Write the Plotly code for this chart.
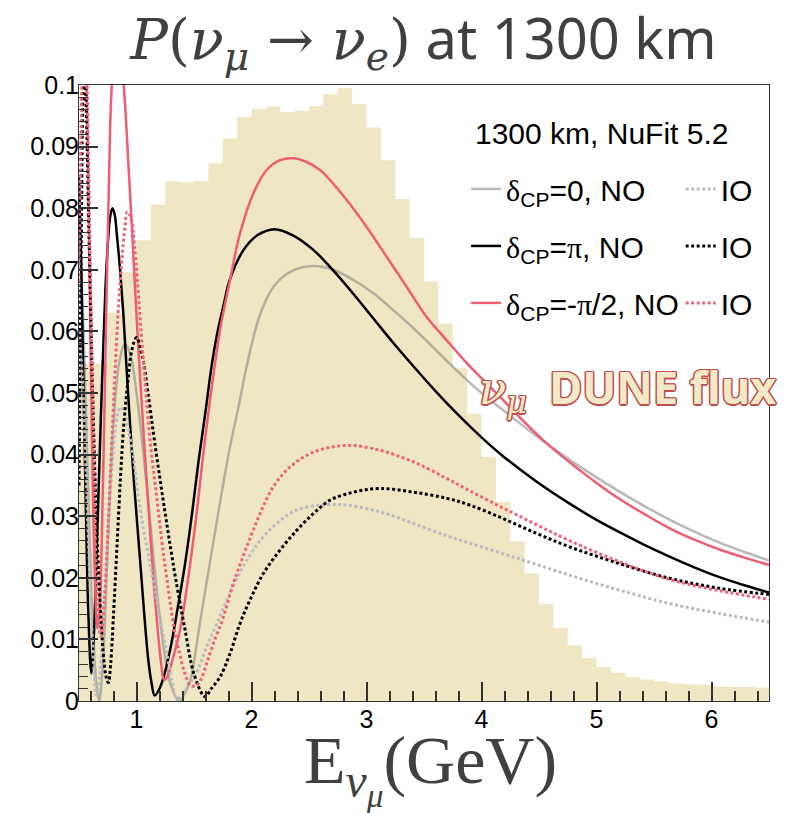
import plotly.graph_objects as go

# ---------------- data ----------------
# nu_mu flux shape (arbitrary units on the probability axis), 0.125 GeV bins from 0.5 GeV
flux_start = 0.5
flux_bin = 0.125
flux = [0.0548, 0.0548, 0.0630, 0.0696, 0.0748, 0.0806, 0.0844, 0.0842,
        0.0844, 0.0873, 0.0913, 0.0948, 0.0961, 0.0965, 0.0956, 0.0958,
        0.0966, 0.0985, 0.0995, 0.0969, 0.0931, 0.0878, 0.0815, 0.0752,
        0.0681, 0.0613, 0.0540, 0.0466, 0.0396, 0.0323, 0.0259, 0.0207,
        0.0157, 0.0119, 0.0090, 0.0070, 0.0055, 0.0046, 0.0039, 0.0035,
        0.0032, 0.0029, 0.0027, 0.0026, 0.0024, 0.0023, 0.0023, 0.0022]

# P(nu_mu -> nu_e) at 1300 km, delta_CP = 0, normal ordering
e_d0_no = [0.50, 0.53, 0.56, 0.59, 0.62, 0.65, 0.675, 0.70, 0.73, 0.76, 0.80, 0.85,
           0.90, 0.95, 1.00, 1.05, 1.10, 1.15, 1.20, 1.25, 1.30, 1.37, 1.42, 1.47,
           1.55, 1.67, 1.81, 1.89, 1.96, 2.07, 2.19, 2.34, 2.54, 2.71, 2.89, 3.06,
           3.23, 3.41, 3.58, 3.76, 4.00, 4.25, 4.50, 4.77, 5.00, 5.20, 5.42, 5.64,
           5.85, 6.07, 6.30, 6.50]
p_d0_no = [0.075, 0.065, 0.047, 0.028, 0.012, 0.003, 0.000, 0.004, 0.015, 0.030, 0.045, 0.055,
           0.058, 0.056, 0.050, 0.042, 0.033, 0.023, 0.014, 0.007, 0.0025, 0.000, 0.0012, 0.0035,
           0.0125, 0.026, 0.041, 0.048, 0.0545, 0.0625, 0.0672, 0.0697, 0.0706, 0.0700, 0.0683, 0.0662,
           0.0635, 0.0605, 0.0574, 0.0541, 0.0500, 0.0463, 0.0427, 0.0391, 0.0363, 0.0340, 0.0316, 0.0294,
           0.0275, 0.0257, 0.0241, 0.0228]

# delta_CP = 0, inverted ordering
e_d0_io = [0.50, 0.53, 0.56, 0.59, 0.62, 0.65, 0.68, 0.72, 0.76, 0.80, 0.83, 0.86,
           0.89, 0.93, 0.97, 1.01, 1.06, 1.11, 1.16, 1.22, 1.27, 1.31, 1.35, 1.40,
           1.45, 1.52, 1.61, 1.70, 1.81, 1.96, 2.10, 2.25, 2.39, 2.60, 2.75, 2.83,
           3.12, 3.41, 3.70, 3.90, 4.34, 4.77, 5.20, 5.64, 6.07, 6.50]
p_d0_io = [0.060, 0.052, 0.038, 0.022, 0.009, 0.001, 0.004, 0.016, 0.030, 0.041, 0.046, 0.0477,
           0.047, 0.044, 0.040, 0.034, 0.028, 0.023, 0.018, 0.012, 0.0071, 0.003, 0.0005, 0.001,
           0.0025, 0.0045, 0.0088, 0.0126, 0.0174, 0.0229, 0.0266, 0.0293, 0.0310, 0.0318, 0.0319, 0.0318,
           0.0307, 0.0288, 0.0268, 0.0256, 0.0230, 0.0204, 0.0180, 0.0158, 0.0142, 0.0128]

# delta_CP = pi, normal ordering
e_dpi_no = [0.50, 0.52, 0.54, 0.56, 0.58, 0.607, 0.63, 0.65, 0.67, 0.69, 0.71, 0.73,
            0.75, 0.77, 0.79, 0.81, 0.83, 0.855, 0.885, 0.925, 0.98, 1.04, 1.10, 1.13,
            1.158, 1.20, 1.245, 1.30, 1.36, 1.42, 1.48, 1.54, 1.60, 1.65, 1.70, 1.76,
            1.81, 1.93, 2.05, 2.20, 2.36, 2.54, 2.71, 2.89, 3.06, 3.23, 3.41, 3.61,
            3.80, 4.00, 4.19, 4.48, 4.77, 5.00, 5.20, 5.42, 5.64, 5.85, 6.07, 6.30, 6.50]
p_dpi_no = [0.085, 0.070, 0.050, 0.031, 0.015, 0.0045, 0.011, 0.022, 0.034, 0.046, 0.057, 0.067,
            0.074, 0.0785, 0.080, 0.079, 0.0755, 0.0705, 0.063, 0.0505, 0.035, 0.0207, 0.0071, 0.003,
            0.0009, 0.002, 0.0045, 0.009, 0.0153, 0.022, 0.030, 0.039, 0.047, 0.054, 0.0595, 0.0645,
            0.0683, 0.0732, 0.0756, 0.0766, 0.0756, 0.0732, 0.0699, 0.0660, 0.0621, 0.0582, 0.0543, 0.0501,
            0.0464, 0.0428, 0.0397, 0.0356, 0.0320, 0.0294, 0.0274, 0.0253, 0.0234, 0.0217, 0.0201, 0.0187,
            0.0176]

# delta_CP = pi, inverted ordering
e_dpi_io = [0.50, 0.52, 0.535, 0.55, 0.565, 0.58, 0.60, 0.62, 0.65, 0.68, 0.71, 0.735,
            0.755, 0.775, 0.80, 0.83, 0.86, 0.89, 0.926, 0.96, 1.00, 1.05, 1.10, 1.158,
            1.245, 1.33, 1.418, 1.506, 1.596, 1.65, 1.726, 1.813, 1.90, 1.987, 2.103, 2.248,
            2.393, 2.537, 2.683, 2.885, 3.117, 3.41, 3.70, 3.90, 4.19, 4.48, 4.77, 5.20,
            5.64, 6.07, 6.50]
p_dpi_io = [0.035, 0.075, 0.098, 0.103, 0.095, 0.082, 0.065, 0.049, 0.030, 0.017, 0.008, 0.004,
            0.003, 0.006, 0.014, 0.025, 0.036, 0.045, 0.052, 0.057, 0.059, 0.056, 0.050, 0.042,
            0.031, 0.021, 0.012, 0.004, 0.0007, 0.002, 0.0039, 0.0077, 0.0126, 0.0164, 0.0207, 0.0245,
            0.0277, 0.0304, 0.0326, 0.0339, 0.0345, 0.0339, 0.0329, 0.0318, 0.0296, 0.0272, 0.0250, 0.0223,
            0.0199, 0.0183, 0.0173]

# delta_CP = -pi/2, normal ordering
e_dm_no = [0.50, 0.53, 0.56, 0.58, 0.60, 0.62, 0.64, 0.66, 0.68, 0.70, 0.72, 0.74,
           0.76, 0.78, 0.81, 0.84, 0.87, 0.90, 0.93, 0.96, 0.99, 1.02, 1.05, 1.08,
           1.114, 1.15, 1.187, 1.215, 1.24, 1.27, 1.31, 1.378, 1.45, 1.52, 1.58, 1.639,
           1.726, 1.813, 1.90, 2.016, 2.132, 2.248, 2.364, 2.48, 2.596, 2.71, 2.83, 3.00,
           3.176, 3.35, 3.52, 3.70, 3.87, 4.00, 4.16, 4.335, 4.55, 4.77, 5.00, 5.20,
           5.42, 5.64, 5.85, 6.07, 6.30, 6.50]
p_dm_no = [0.140, 0.125, 0.105, 0.085, 0.058, 0.035, 0.019, 0.0118, 0.015, 0.028, 0.046, 0.066,
           0.084, 0.098, 0.106, 0.108, 0.104, 0.097, 0.087, 0.077, 0.066, 0.056, 0.047, 0.038,
           0.0288, 0.019, 0.011, 0.006, 0.0034, 0.004, 0.0065, 0.0115, 0.020, 0.030, 0.040, 0.0488,
           0.0602, 0.0683, 0.0759, 0.0824, 0.0862, 0.0878, 0.0881, 0.0875, 0.0862, 0.0840, 0.0813, 0.0770,
           0.0721, 0.0672, 0.0624, 0.0585, 0.0549, 0.0524, 0.0494, 0.0460, 0.0421, 0.0387, 0.0354, 0.0328,
           0.0303, 0.0280, 0.0262, 0.0246, 0.0232, 0.0221]

# delta_CP = -pi/2, inverted ordering
e_dm_io = [0.50, 0.52, 0.54, 0.56, 0.58, 0.60, 0.62, 0.64, 0.66, 0.69, 0.72, 0.75,
           0.78, 0.81, 0.84, 0.87, 0.90, 0.92, 0.95, 0.984, 1.028, 1.08, 1.12, 1.17,
           1.22, 1.27, 1.33, 1.378, 1.42, 1.47, 1.52, 1.56, 1.61, 1.668, 1.755, 1.842,
           1.958, 2.074, 2.19, 2.335, 2.537, 2.83, 3.117, 3.41, 3.70, 3.90, 4.19, 4.48,
           4.77, 5.20, 5.64, 6.07, 6.50]
p_dm_io = [0.068, 0.095, 0.108, 0.105, 0.090, 0.068, 0.046, 0.028, 0.016, 0.0105, 0.016, 0.027,
           0.040, 0.052, 0.063, 0.071, 0.077, 0.0794, 0.0785, 0.0737, 0.063, 0.0505, 0.042, 0.034,
           0.026, 0.019, 0.0115, 0.0075, 0.0045, 0.0025, 0.0025, 0.0035, 0.0061, 0.0093, 0.0136, 0.0191,
           0.0250, 0.0304, 0.0348, 0.0380, 0.0404, 0.0415, 0.0407, 0.0388, 0.0361, 0.0341, 0.0313, 0.0286,
           0.0260, 0.0226, 0.0197, 0.0179, 0.0165]

# ---------------- styling ----------------
SERIF = "Liberation Serif, DejaVu Serif, serif"
MATH = "DejaVu Serif, Liberation Serif, serif"
SANS = "Liberation Sans, Arial, sans-serif"
TITLE_SANS = "Noto Sans, Open Sans, sans-serif"
BEIGE = "#efe7c4"
GRAY, GRAY_IO = "rgba(128,128,128,0.55)", "#bbbbc5"
RED, RED_IO = "#ee5d70", "#f06478"
AXIS = "#333333"
LEG_SIZE = 30


def sym(ch):
    return f"<span style='font-family:{SERIF}'>{ch}</span>"


def no_label(val):
    return f"{sym('δ')}<sub>CP</sub>={val}, NO"


fig = go.Figure()

# flux histogram drawn as a filled step outline
flux_x = [flux_start + flux_bin * i for i in range(len(flux) + 1)]
flux_y = flux + [flux[-1]]
fig.add_trace(go.Scatter(x=flux_x, y=flux_y, mode="lines", line_shape="hv",
                         line=dict(width=0, color=BEIGE), fill="tozeroy",
                         fillcolor=BEIGE, showlegend=False, hoverinfo="skip"))

DOT = "3px,2.5px"
curves = [
    (e_d0_no, p_d0_no, GRAY, "solid", 2.5, no_label("0"), "legend"),
    (e_dpi_no, p_dpi_no, "black", "solid", 2.5, no_label(sym("π")), "legend"),
    (e_dm_no, p_dm_no, RED, "solid", 2.5, no_label("-" + sym("π") + "/2"), "legend"),
    (e_d0_io, p_d0_io, GRAY_IO, DOT, 3, "IO", "legend2"),
    (e_dpi_io, p_dpi_io, "black", DOT, 3, "IO", "legend2"),
    (e_dm_io, p_dm_io, RED_IO, DOT, 3, "IO", "legend2"),
]
for i, (ex, py, col, dash, w, name, leg) in enumerate(curves):
    fig.add_trace(go.Scatter(x=ex, y=py, mode="lines", name=name,
                             line=dict(color=col, width=w, dash=dash,
                                       shape="spline", smoothing=1.0),
                             legend=leg, legendgroup=f"g{i}"))

legend_common = dict(yanchor="top", xanchor="left", bgcolor="rgba(0,0,0,0)",
                     traceorder="grouped", tracegroupgap=15, itemwidth=30,
                     font=dict(family=SANS, size=LEG_SIZE, color="black"))

fig.update_layout(
    width=790, height=813,
    margin=dict(l=79, r=21, t=85, b=112),
    paper_bgcolor="white", plot_bgcolor="white",
    title=dict(
        text=(f"<span style='font-family:{MATH}'><i>P</i>(<i>ν</i><sub><i>μ</i></sub> → "
              f"<i>ν</i><sub><i>e</i></sub>)</span> "
              f"<span style='font-family:{TITLE_SANS}'>at 1300 km</span>"),
        font=dict(family=TITLE_SANS, size=56, color="#404040"),
        x=0.536, xanchor="center", xref="container",
        y=0.952, yanchor="middle", yref="container"),
    xaxis=dict(range=[0.5, 6.5], tick0=0, dtick=1, showgrid=False, zeroline=False,
               showline=True, linecolor=AXIS, linewidth=1, mirror=True,
               ticks="inside", ticklen=19, tickcolor=AXIS, tickwidth=1.5,
               ticklabelstandoff=-4,
               minor=dict(dtick=0.2, ticks="inside", ticklen=10, tickcolor=AXIS, tickwidth=1.5),
               tickfont=dict(family=SANS, size=25, color="black")),
    yaxis=dict(range=[0, 0.1], tick0=0, dtick=0.01, showgrid=False, zeroline=False,
               showline=True, linecolor=AXIS, linewidth=1, mirror=True,
               ticks="inside", ticklen=19, tickcolor=AXIS, tickwidth=1.5,
               ticklabelstandoff=-6,
               minor=dict(dtick=0.002, ticks="inside", ticklen=9, tickcolor=AXIS, tickwidth=1),
               tickfont=dict(family=SANS, size=25, color="black")),
    legend=dict(x=0.561, y=0.8735, **legend_common),
    legend2=dict(x=0.872, y=0.8735, **legend_common),
    showlegend=True,
)

# legend heading
fig.add_annotation(text="1300 km, NuFit 5.2", xref="paper", yref="paper",
                   x=0.571, y=0.922, xanchor="left", yanchor="middle", showarrow=False,
                   font=dict(family=SANS, size=LEG_SIZE, color="black"))

outline = "#c04e4c"
fig.add_annotation(
    text=(f"<span style='font-family:{MATH}'><i>ν</i><sub><i>μ</i></sub></span>\u2002"
          "<b>DUNE flux</b>"),
    xref="paper", yref="paper", x=1.013, y=0.508, xanchor="right", yanchor="middle",
    showarrow=False,
    font=dict(family=TITLE_SANS, size=45, color="#f2e9c8",
              shadow=(f"1.5px 0 0 {outline}, -1.5px 0 0 {outline}, 0 1.5px 0 {outline}, "
                      f"0 -1.5px 0 {outline}, 1px 1px 0 {outline}, -1px -1px 0 {outline}, "
                      f"1px -1px 0 {outline}, -1px 1px 0 {outline}")))

# x-axis title
fig.add_annotation(
    text="E<sub><i>ν</i><sub><i>μ</i></sub></sub>(GeV)",
    xref="paper", yref="paper", x=0.509, y=-0.108, xanchor="center", yanchor="middle",
    showarrow=False, font=dict(family=SERIF, size=68, color="#404040"))

fig.write_html("out.html")
